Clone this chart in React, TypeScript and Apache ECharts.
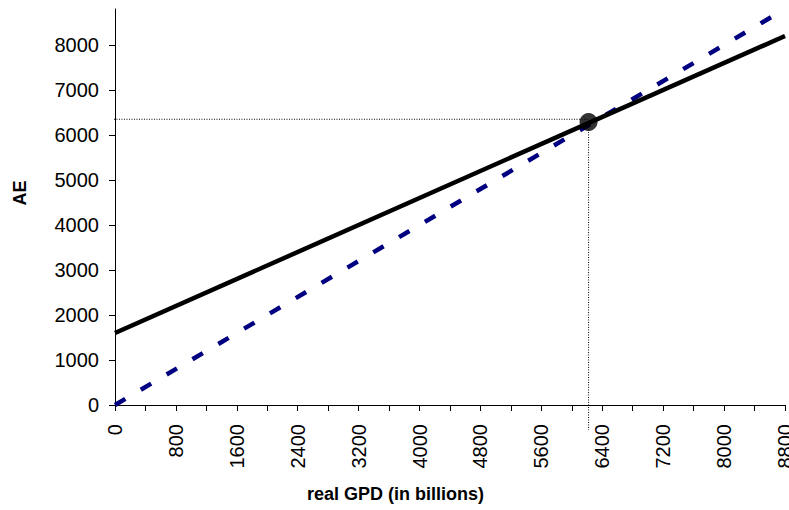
import React, { useEffect, useRef } from "react";
import * as echarts from "echarts";

// Real GDP (in billions) at the ends of each schedule
const gdpEnds = [0, 8800];
// Aggregate expenditure schedule (solid)
const aeValues = [1600, 8200];
// 45-degree reference line (AE = GDP)
const fortyFiveValues = [0, 8800];
// Equilibrium point
const equilibrium = [6220, 6290];
// Dotted guide lines toward the axes
const guideH = [[-145, 6350], [6220, 6350]];
const guideV = [[6220, 6290], [6220, -555]];

const xTicks = [0, 400, 800, 1200, 1600, 2000, 2400, 2800, 3200, 3600, 4000, 4400, 4800, 5200, 5600, 6000, 6400, 6800, 7200, 7600, 8000, 8400, 8800];
const xLabels = [0, 800, 1600, 2400, 3200, 4000, 4800, 5600, 6400, 7200, 8000, 8800];
const yTicks = [0, 1000, 2000, 3000, 4000, 5000, 6000, 7000, 8000];

const FONT = "'Liberation Sans', Arial, sans-serif";

export default function App() {
  const ref = useRef<HTMLDivElement>(null);

  useEffect(() => {
    if (!ref.current) return;
    const chart = echarts.init(ref.current, undefined, { renderer: "svg" });
    chart.setOption({
      animation: false,
      backgroundColor: "#ffffff",
      textStyle: { fontFamily: FONT },
      grid: { left: 115, right: 4, top: 9, bottom: 105, containLabel: false, outerBoundsMode: "none" },
      xAxis: {
        type: "value",
        min: 0,
        max: 8800,
        axisLine: { show: true, onZero: false, lineStyle: { color: "#000", width: 1 } },
        axisTick: { show: true, length: 6, inside: false, customValues: xTicks, lineStyle: { color: "#000" } },
        axisLabel: {
          customValues: xLabels,
          formatter: (v: number) => String(v),
          rotate: 90,
          margin: 19,
          color: "#000",
          fontSize: 20,
          fontFamily: FONT,
          hideOverlap: false,
        },
        splitLine: { show: false },
      },
      yAxis: {
        type: "value",
        min: 0,
        max: 8800,
        name: "AE",
        nameLocation: "middle",
        nameRotate: 90,
        nameGap: 86,
        nameTextStyle: { fontSize: 18, fontWeight: "bold", color: "#000", fontFamily: FONT, padding: [0, 0, 0, 28] },
        axisLine: { show: true, onZero: false, lineStyle: { color: "#000", width: 1 } },
        axisTick: { show: true, length: 6, customValues: yTicks, lineStyle: { color: "#000" } },
        axisLabel: {
          customValues: yTicks,
          formatter: (v: number) => String(v),
          margin: 16,
          color: "#000",
          fontSize: 20,
          fontFamily: FONT,
        },
        splitLine: { show: false },
      },
      graphic: [
        {
          type: "text",
          left: 307,
          top: 485,
          style: {
            text: "real GPD (in billions)",
            fontSize: 18,
            fontWeight: "bold",
            fontFamily: FONT,
            fill: "#000",
          },
        },
      ],
      series: [
        {
          type: "line",
          data: gdpEnds.map((x, i) => [x, fortyFiveValues[i]]),
          symbol: "none",
          lineStyle: { color: "#000080", width: 4.5, type: [12, 18] },
          z: 2,
        },
        {
          type: "line",
          data: gdpEnds.map((x, i) => [x, aeValues[i]]),
          symbol: "none",
          lineStyle: { color: "#000", width: 4.5 },
          z: 3,
        },
        {
          type: "line",
          data: guideH,
          symbol: "none",
          clip: false,
          lineStyle: { color: "#000", width: 1, type: [1, 1.5] },
          z: 1,
        },
        {
          type: "line",
          data: guideV,
          symbol: "none",
          clip: false,
          lineStyle: { color: "#000", width: 1, type: [1, 1.5] },
          z: 1,
        },
        {
          type: "scatter",
          data: [equilibrium],
          symbol: "circle",
          symbolSize: 18,
          itemStyle: { color: "#000" },
          z: 4,
        },
      ],
    });
    return () => chart.dispose();
  }, []);

  return <div ref={ref} style={{ width: 789, height: 510, position: "absolute", left: 0, top: 0 }} />;
}
